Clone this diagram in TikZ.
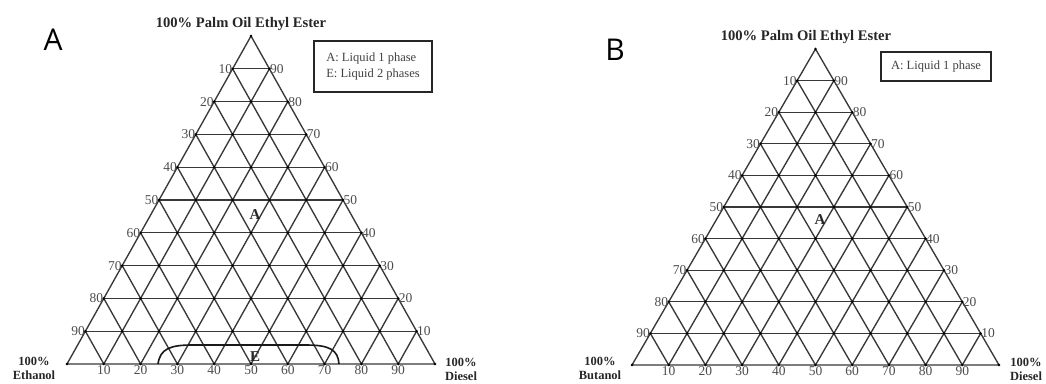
\documentclass[tikz,border=0pt]{standalone}
\usepackage{fontspec}
\setmainfont{Liberation Serif}
\newfontfamily\panelfont{Open Sans}
\tikzset{
  gridline/.style={draw=black!78, line width=1.35pt},
  gdot/.style={fill=black},
  ticklab/.style={font=\fontsize{13.5}{13.5}\selectfont, inner sep=0.4pt, text=black!70},
  cornerlab/.style={font=\bfseries\fontsize{12.5}{14}\selectfont, align=center, inner sep=0pt, text=black!85},
  titlelab/.style={font=\bfseries\fontsize{14.6}{14.6}\selectfont, inner sep=0pt, text=black!85},
  legendbox/.style={draw=black!85, line width=1.1pt, align=left, font=\fontsize{12.5}{16}\selectfont, text=black!75, inner xsep=8pt, anchor=center},
  panellab/.style={font=\panelfont\fontsize{30}{30}\selectfont, inner sep=0pt},
  regionlab/.style={font=\bfseries\fontsize{15}{15}\selectfont, inner sep=0pt, text=black!85},
  boundary/.style={draw=black!90, line width=1.6pt}
}
% #1 name prefix
\newcommand\myternary[1]{%
  \draw[gridline] (0,0) coordinate (#1-L) -- (10,0) coordinate (#1-R) -- (5,10) coordinate (#1-T) -- cycle;
  \foreach \h in {1,...,9} {\draw[gridline] ({\h/2},\h) -- ({10-\h/2},\h);}
  \foreach \k in {1,...,9} {
    \draw[gridline] (\k,0) -- ({(10+\k)/2},{10-\k});
    \draw[gridline] (\k,0) -- ({\k/2},\k);
  }
  \foreach \h in {0,...,10} {
    \pgfmathtruncatemacro\mymax{10-\h}
    \foreach \j in {0,...,\mymax} {\fill[gdot] ({\j+\h/2},\h) circle[radius=1.4pt];}
  }
  \foreach \h in {1,...,9} {
    \pgfmathtruncatemacro\lv{10*(10-\h)}
    \pgfmathtruncatemacro\rv{10*\h}
    \node[ticklab, anchor=east] (#1-l\h) at ({\h/2},\h) {\lv};
    \node[ticklab, anchor=west] (#1-r\h) at ({10-\h/2},\h) {\rv};
  }
  \foreach \k in {1,...,9} {
    \pgfmathtruncatemacro\bv{10*\k}
    \node[ticklab, anchor=north, yshift=-1pt] (#1-b\k) at (\k,0) {\bv};
  }
}
\begin{document}
\begin{tikzpicture}[x=1pt,y=1pt]
\useasboundingbox (0,0) rectangle (1046,-383);

% ---------- Panel A ----------
\node[panellab] (panelA) at (53,-40) {A};
\node[titlelab] (titleA) at (241,-24) {100\% Palm Oil Ethyl Ester};
\begin{scope}[shift={(67pt,-364pt)}, x=36.8pt, y=32.8pt]
  \myternary{ta}
\end{scope}
\node[legendbox, minimum width=118pt, minimum height=51pt] (legA) at (373,-66.5) {A: Liquid 1 phase\\E: Liquid 2 phases};
\node[regionlab] (regA1) at (255,-215) {A};
\node[regionlab] (regE) at (255,-357) {E};
\coordinate (eL) at (158,-364);
\coordinate (eR) at (339,-364);
\draw[boundary] (eL) .. controls (160,-349) and (170,-345) .. (192,-345) -- (306,-345) .. controls (330,-345) and (338,-350) .. (eR);
\node[cornerlab] (ethanol) at (34,-368) {100\%\\Ethanol};
\node[cornerlab] (dieselA) at (461,-369) {100\%\\Diesel};

% ---------- Panel B ----------
\node[panellab] (panelB) at (615,-50) {B};
\node[titlelab] (titleB) at (806,-37) {100\% Palm Oil Ethyl Ester};
\begin{scope}[shift={(632pt,-365pt)}, x=36.7pt, y=31.6pt]
  \myternary{tb}
\end{scope}
\node[legendbox, minimum width=110pt, minimum height=29pt] (legB) at (936,-66.5) {A: Liquid 1 phase};
\node[regionlab] (regA2) at (820,-220) {A};
\node[cornerlab] (butanol) at (600,-368) {100\%\\Butanol};
\node[cornerlab] (dieselB) at (1026,-369) {100\%\\Diesel};
\end{tikzpicture}
\end{document}
